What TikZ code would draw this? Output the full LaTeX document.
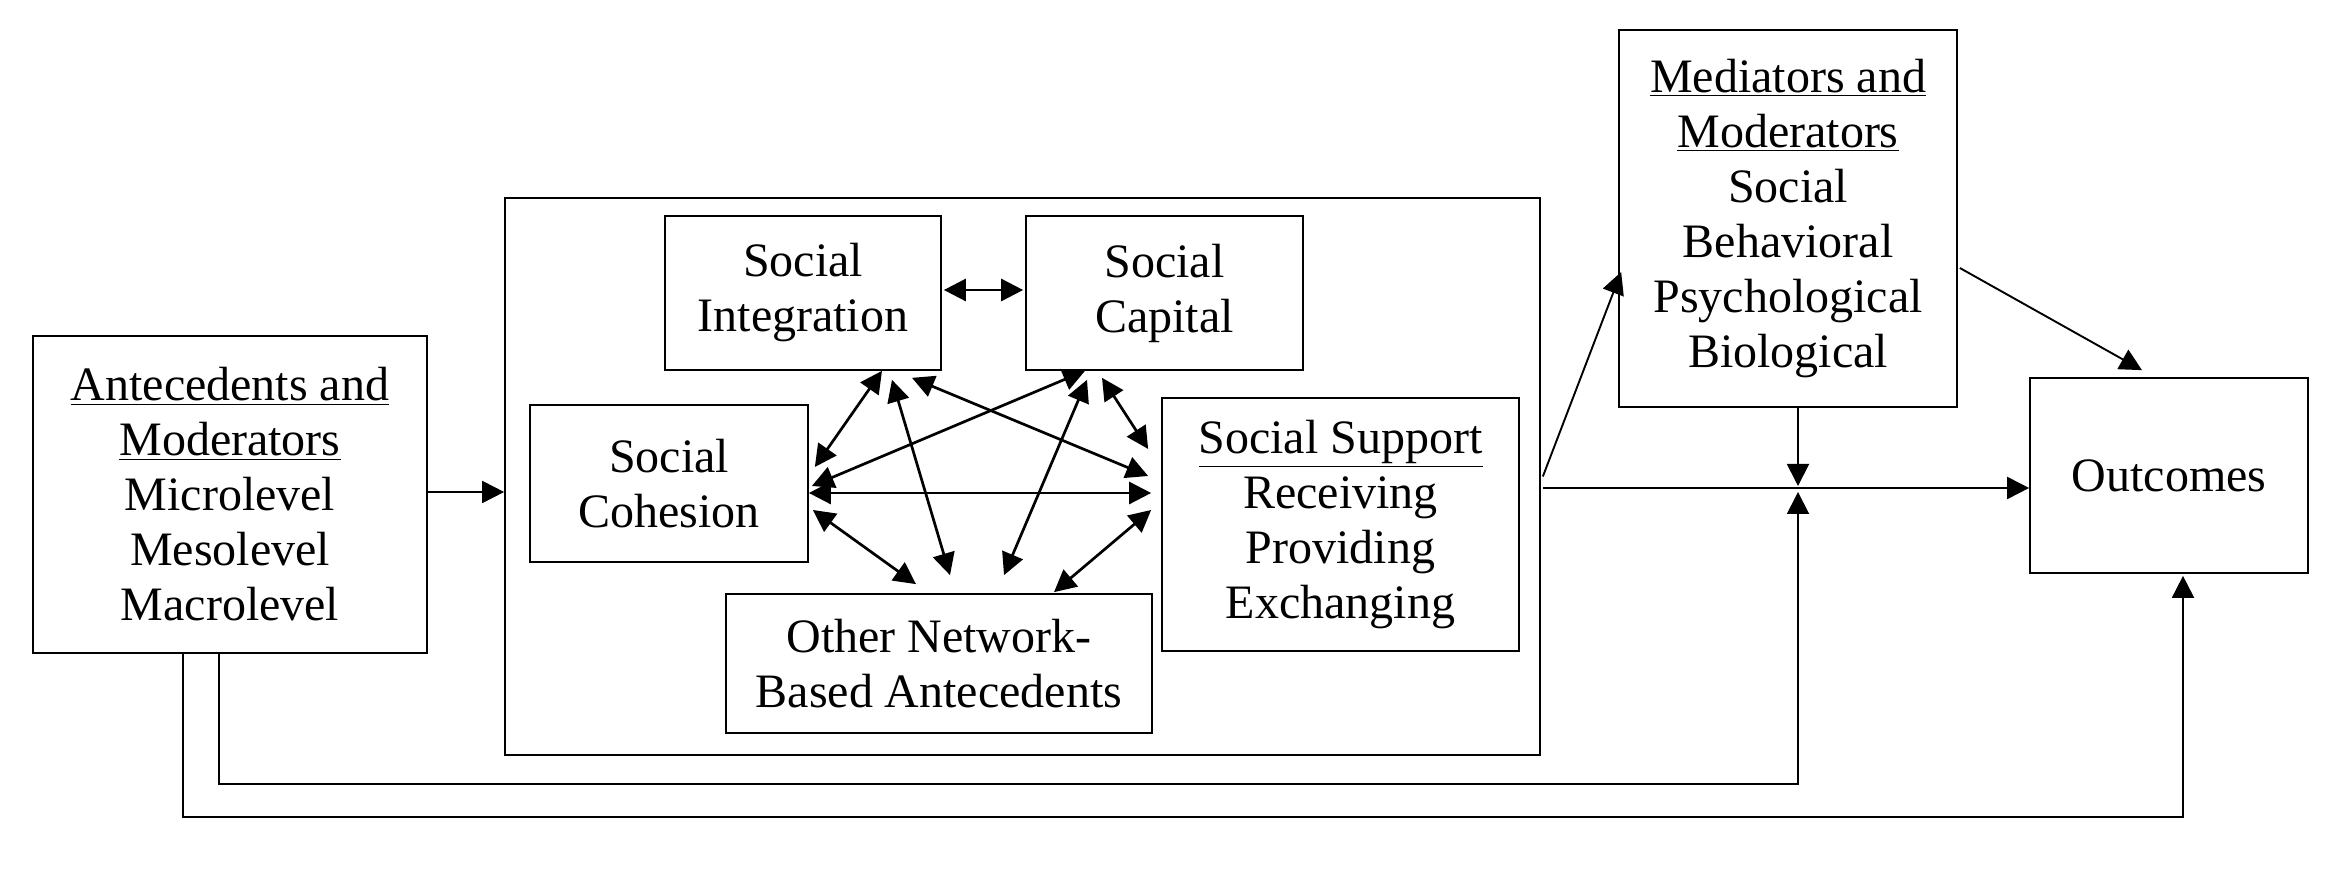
\documentclass[tikz,border=0pt]{standalone}
\usepackage{fontspec}
\setmainfont{Liberation Serif}
\usetikzlibrary{arrows.meta}
\begin{document}
\begin{tikzpicture}[x=0.5pt,y=-0.5pt,
  box/.style={draw, line width=0.85pt, inner sep=0pt, align=center,
    font=\fontsize{24}{27.5}\selectfont},
  arr/.style={-{Triangle[length=11pt,width=11pt]}, line width=0.95pt},
  darr/.style={{Triangle[length=11pt,width=11pt]}-{Triangle[length=11pt,width=11pt]}, line width=1.35pt}]
\useasboundingbox (0,0) rectangle (2342,870);
% boxes
\node[box, minimum width=197pt, minimum height=158.5pt] (ant) at (230,494.5)
  {\underline{Antecedents and}\\\underline{Moderators}\\Microlevel\\Mesolevel\\Macrolevel};
\node[box, minimum width=517.5pt, minimum height=278.5pt] (big) at (1022.5,476.5) {};
\node[box, minimum width=138pt, minimum height=77pt] (si) at (803,293) {Social\\Integration};
\node[box, minimum width=138.5pt, minimum height=77pt] (sc) at (1164.5,293) {Social\\Capital};
\node[box, minimum width=139pt, minimum height=78.5pt] (coh) at (669,483.5) {Social\\Cohesion};
\node[box, minimum width=213pt, minimum height=69.5pt] (oth) at (939,663.5) {Other Network-\\Based Antecedents};
\node[box, minimum width=178.5pt, minimum height=126.5pt] (sup) at (1340.5,524.5)
  {\underline{Social Support}\\Receiving\\Providing\\Exchanging};
\node[box, minimum width=169pt, minimum height=188.5pt] (med) at (1788,218.5)
  {\underline{Mediators and}\\\underline{Moderators}\\Social\\Behavioral\\Psychological\\Biological};
\node[box, minimum width=139pt, minimum height=97.5pt] (out) at (2169,475.5) {Outcomes};
% inner arrows
\draw[darr] ([shift={(2,-3)}]si.east) -- ([shift={(-2,-3)}]sc.west);
\draw[darr] ([shift={(79,0)}]si.south) -- ([shift={(6,-16.5)}]coh.east);
\draw[darr] ([shift={(89,9)}]si.south) -- ([shift={(11,-18)}]oth.north);
\draw[darr] ([shift={(109,7)}]si.south) -- ([shift={(-13,-48.5)}]sup.west);
\draw[darr] ([shift={(-79.5,0)}]sc.south) -- ([shift={(3,2.5)}]coh.east);
\draw[darr] ([shift={(-77.5,9)}]sc.south) -- ([shift={(65,-18)}]oth.north);
\draw[darr] ([shift={(-62.5,7)}]sc.south) -- ([shift={(-13,-75.5)}]sup.west);
\draw[darr] ([shift={(0,9.5)}]coh.east) -- ([shift={(-10,-31.5)}]sup.west);
\draw[darr] ([shift={(4,26.5)}]coh.east) -- ([shift={(-23,-9)}]oth.north);
\draw[darr] ([shift={(-10,-14.5)}]sup.west) -- ([shift={(115,-1)}]oth.north);
% outer connectors
\coordinate (jn) at (1798,488);
\coordinate (lb) at (0,784);
\coordinate (la) at (0,817);
\coordinate (oa) at ([shift={(14,2)}]out.south);
\draw[arr] ([shift={(0,-2.5)}]ant.east) -- ([shift={(0,-2.5)}]ant.east -| big.west);
\draw[arr] ([shift={(2,11.5)}]big.east) -- (jn -| out.west);
\draw[arr] ([shift={(2,0)}]big.east) -- ([shift={(3,53.5)}]med.west);
\draw[arr] ([shift={(2,49.5)}]med.east) -- ([shift={(-27,-7)}]out.north);
\draw[arr] (med.south -| jn) -- ([shift={(0,-2)}]jn);
\draw[arr] ([shift={(-11,0)}]ant.south) |- (lb -| jn) -- ([shift={(0,4)}]jn);
\draw[arr] ([shift={(-47,0)}]ant.south) |- (la -| oa) -- (oa);
\end{tikzpicture}
\end{document}
